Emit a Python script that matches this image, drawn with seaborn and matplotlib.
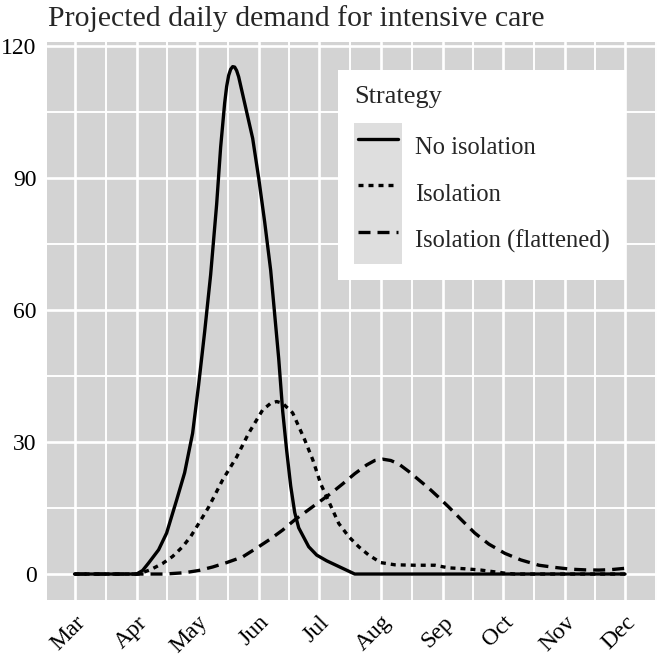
import matplotlib
matplotlib.use("Agg")
import matplotlib.pyplot as plt
import matplotlib.dates as mdates
from matplotlib.lines import Line2D
from matplotlib.text import Text
from matplotlib.patches import Rectangle
from matplotlib.legend_handler import HandlerLine2D, HandlerTuple
import seaborn as sns
import pandas as pd
import numpy as np

# days counted from 1 March, values = ICU beds needed per day
start = pd.Timestamp("2020-03-01")
strategies = ["No isolation", "Isolation", "Isolation (flattened)"]

no_iso_day = [0, 31, 34, 37, 42, 46, 51, 55, 59, 62, 65, 68, 71, 73, 75, 76, 77, 78, 79, 80,
              81, 82, 83, 86, 89, 92, 95, 98, 100, 102, 104, 106, 108, 110, 112, 117, 121,
              126, 140, 275]
no_iso_val = [0, 0, 0.8, 2.5, 5.5, 9.3, 16.8, 23, 32, 43, 55, 68, 84, 97, 107, 110.8, 113.3,
              114.7, 115.3, 115.2, 114.4, 113, 111, 105, 99, 90, 80, 69, 59, 49, 37, 28, 20,
              14, 10.5, 6.2, 4.3, 3.0, 0, 0]

iso_day = [0, 32, 38, 44, 49, 54, 58, 61, 67, 74, 81, 87, 94, 98, 101, 104, 109, 115, 119,
           123, 127, 132, 137, 142, 147, 153, 160, 170, 180, 187, 195, 203, 215, 220, 275]
iso_val = [0, 0, 1.0, 2.4, 4.0, 6.2, 8.5, 10.7, 15.2, 21.4, 26.6, 32, 37.3, 38.8, 39.2, 38.8,
           36.6, 30.5, 26, 20.5, 16.5, 11.5, 8.5, 6.2, 4.3, 2.6, 2.1, 2.0, 2.0, 1.4, 1.2, 0.9,
           0.2, 0, 0]

flat_day = [0, 35, 45, 55, 62, 69, 76, 84, 92, 98, 104, 110, 116, 122, 128, 134, 140, 146,
            150, 154, 158, 162, 167, 172, 177, 182, 187, 194, 200, 207, 215, 223, 232, 240,
            248, 255, 262, 268, 275]
flat_val = [0, 0, 0, 0.3, 0.8, 1.6, 2.6, 3.9, 6.2, 8, 10, 12.3, 14.3, 16.3, 18.3, 20.5, 22.8,
            24.8, 25.8, 26.1, 25.8, 25.0, 23.3, 21.4, 19.5, 17.4, 15.2, 12.0, 9.3, 6.8, 4.7,
            3.2, 2.0, 1.5, 1.1, 0.95, 0.9, 1.0, 1.3]

frames = []
for name, days, vals in zip(strategies, [no_iso_day, iso_day, flat_day],
                            [no_iso_val, iso_val, flat_val]):
    frames.append(pd.DataFrame({
        "date": start + pd.to_timedelta(days, unit="D"),
        "icu": vals,
        "Strategy": name,
    }))
df = pd.concat(frames, ignore_index=True)

serif = ["Liberation Serif", "DejaVu Serif"]
sns.set_style("darkgrid", {"axes.facecolor": "#D3D3D3", "grid.color": "white"})
plt.rcParams["font.family"] = serif

fig = plt.figure(figsize=(6.57, 6.57), dpi=100)
ax = fig.add_axes([47 / 657, 1 - 600 / 657, 1 - 47 / 657, 558 / 657])

dash_map = {"No isolation": "", "Isolation": (1.5, 1.5), "Isolation (flattened)": (3.6, 2.1)}
sns.lineplot(data=df, x="date", y="icu", style="Strategy", style_order=strategies,
             dashes=dash_map, color="black", linewidth=2.4, errorbar=None,
             legend=False, ax=ax)
for ln in ax.lines:
    ln.set_solid_joinstyle("round")

ax.set_xlim(start - pd.Timedelta(days=13.75), start + pd.Timedelta(days=291))
ax.set_ylim(-5.9, 120.9)

month_starts = pd.date_range("2020-02-01", "2021-01-01", freq="MS")
ax.xaxis.set_major_locator(mdates.MonthLocator())
ax.xaxis.set_major_formatter(mdates.DateFormatter("%b"))
mids = [(mdates.date2num(a) + mdates.date2num(b)) / 2
        for a, b in zip(month_starts[:-1], month_starts[1:])]
ax.xaxis.set_minor_locator(matplotlib.ticker.FixedLocator(mids))
ax.set_yticks([0, 30, 60, 90, 120])
ax.yaxis.set_minor_locator(matplotlib.ticker.FixedLocator([15, 45, 75, 105]))

ax.grid(True, which="major", color="white", linewidth=1.9)
ax.grid(True, which="minor", color="white", linewidth=1.4)
ax.set_axisbelow(True)
for s in ax.spines.values():
    s.set_visible(False)

ax.tick_params(which="major", axis="both", color="#333333", width=1.1, labelsize=17,
               labelcolor="black")
ax.tick_params(which="major", axis="y", length=4.5, pad=3)
ax.tick_params(which="major", axis="x", length=5.5, pad=3)
ax.tick_params(which="minor", length=0)
plt.setp(ax.get_xticklabels(), rotation=45, ha="right", rotation_mode="anchor")
ax.set_xlabel("")
ax.set_ylabel("")

fig.text(48 / 657, 1 - 26 / 657, "Projected daily demand for intensive care",
         fontsize=21.5, ha="left", va="baseline")


class ShortLine(HandlerLine2D):
    def create_artists(self, legend, orig_handle, xdescent, ydescent, width, height,
                       fontsize, trans):
        pad = 0.09 * width
        return super().create_artists(legend, orig_handle, xdescent - pad, ydescent,
                                      width - 2 * pad, height, fontsize, trans)


handles = [(Rectangle((0, 0), 1, 1, facecolor="#DEDEDE", edgecolor="none"), ln)
           for ln in ax.lines[:3]]
leg = ax.legend(handles, strategies, title="Strategy",
                handler_map={tuple: HandlerTuple(ndivide=1, pad=0), Line2D: ShortLine()},
                loc="upper left", bbox_to_anchor=(338 / 657, 1 - 70 / 657),
                bbox_transform=fig.transFigure, frameon=True, fancybox=False,
                facecolor="white", edgecolor="none", framealpha=1,
                fontsize=17.7, title_fontsize=19, handlelength=1.95, handleheight=2.55,
                labelspacing=0, handletextpad=0.55, borderpad=0.65, borderaxespad=0,
                alignment="left")
leg._legend_box.sep = 11

# make sure every label uses the serif face
for t in fig.findobj(Text):
    t.set_fontfamily(serif)

fig.savefig("out.png", dpi=100)
